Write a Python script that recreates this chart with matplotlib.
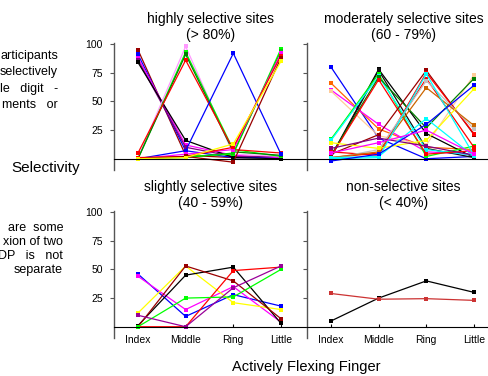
import matplotlib
matplotlib.use("Agg")
import matplotlib.pyplot as plt

plt.rcParams['font.family'] = ['Liberation Sans', 'DejaVu Sans']

fingers = ['Index', 'Middle', 'Ring', 'Little']

# highly selective sites (> 80%)
high_vals = [
    [95, 3, 1, 1], [91, 7, 1, 1], [88, 12, 3, 1], [86, 10, 2, 2], [84, 16, 1, 0],
    [1, 98, 4, 2], [0, 93, 8, 2], [0, 91, 6, 3], [5, 86, 8, 5],
    [0, 7, 92, 4],
    [0, 2, 4, 96], [0, 1, 5, 94], [0, 4, 8, 92], [1, 2, 10, 90], [0, 2, -3, 88], [0, 1, 13, 85],
]
high_colors = [
    '#990000', '#0000ff', '#ff00ff', '#800080', '#000000',
    '#ff99ff', '#00ff00', '#008000', '#ff0000',
    '#0000ff',
    '#00ff00', '#00cc00', '#ff00ff', '#ff0000', '#990000', '#ffff00',
]

# moderately selective sites (60 - 79%)
mod_vals = [
    [80, 18, 0, 2], [66, 26, 10, 8], [60, 30, 6, 4], [59, 20, 12, 73],
    [2, 78, 22, 1], [1, 77, 9, 1], [17, 74, 2, 11], [16, 72, 8, 3],
    [3, 71, 27, 70], [2, 69, 4, 7], [4, 21, 77, 21], [6, 3, 75, 22],
    [1, 5, 70, 10], [0, 8, 68, 26], [1, 6, 62, 29], [14, 9, 16, 61],
    [9, 18, 11, 3], [1, 2, 35, 2], [0, 1, 74, 3], [-2, 4, 30, 64], [5, 14, 25, 4],
]
mod_colors = [
    '#0000ff', '#ff6600', '#ff00ff', '#ffcc99',
    '#000000', '#111111', '#00ff00', '#00ffff',
    '#008000', '#ff0000', '#990000', '#ff0000',
    '#ff0000', '#c0c0c0', '#cc6600', '#ffff00',
    '#800080', '#00ffff', '#00ffff', '#0000ff', '#ff00ff',
]

# slightly selective sites (40 - 59%)
slight_vals = [
    [46, 9, 28, 18], [44, 15, 35, 4], [12, 53, 21, 15], [1, 45, 52, 3],
    [0, 53, 40, 7], [0, 0, 49, 52], [0, 25, 26, 50], [10, 0, 34, 53],
]
slight_colors = ['#0000ff', '#ff00ff', '#ffff00', '#000000',
                 '#990000', '#ff0000', '#00ff00', '#990099']

# non-selective sites (< 40%)
non_vals = [[5, 25, 40, 30], [29, 24, 24.5, 23]]
non_colors = ['#000000', '#cc3333']

W, H = 488, 376
fig = plt.figure(figsize=(W / 100, H / 100), dpi=100)

def px_axes(x0, y_top, w, h):
    return fig.add_axes([x0 / W, 1 - (y_top + h) / H, w / W, h / H])

panels = [
    (114, 43.2, high_vals, high_colors, 'highly selective sites\n(> 80%)', True, False),
    (307, 43.2, mod_vals, mod_colors, 'moderately selective sites\n(60 - 79%)', False, False),
    (114, 211.2, slight_vals, slight_colors, 'slightly selective sites\n(40 - 59%)', True, True),
    (307, 211.2, non_vals, non_colors, 'non-selective sites\n(< 40%)', False, True),
]

x = list(range(len(fingers)))
for x0, y0, vals, cols, title, ylab, xlab in panels:
    ax = px_axes(x0, y0, 193, 127)
    for v, c in zip(vals, cols):
        ax.plot(x, v, '-s', color=c, lw=0.9, ms=2.8, mew=0, clip_on=False)
    ax.set_xlim(-0.503, 3.546)
    ax.set_ylim(-10, 100.8)
    ax.spines['top'].set_visible(False)
    ax.spines['right'].set_visible(False)
    ax.spines['bottom'].set_position(('data', 0))
    ax.spines['bottom'].set_color('black')
    ax.spines['left'].set_color('#555555')
    ax.spines['left'].set_linewidth(1.0)
    ax.set_yticks([25, 50, 75, 100])
    ax.set_xticks(x)
    ax.tick_params(axis='y', direction='out', length=3, width=0.8, pad=5,
                   labelsize=7.5, labelleft=ylab, color='#555555')
    ax.tick_params(axis='x', direction='in', length=2, width=0.8, pad=6,
                   labelsize=7.5, labelbottom=xlab)
    ax.set_xticklabels(fingers)
    ax.set_title(title, fontsize=10, pad=3, linespacing=1.2)

fig.text(46 / W, 1 - 168 / H, 'Selectivity', fontsize=11, ha='center', va='center')
fig.text(306 / W, 1 - 367 / H, 'Actively Flexing Finger', fontsize=10.5,
         ha='center', va='center')

top_lines = ['articipants', 'selectively', 'le   digit   -', 'ments   or']
for i, s in enumerate(top_lines):
    fig.text(58 / W, 1 - (56 + 16.3 * i) / H, s, fontsize=9, ha='right', va='center')

bottom_lines = ['are  some', 'xion of two', 'DP   is   not', 'separate']
for i, s in enumerate(bottom_lines):
    fig.text(63 / W, 1 - (228 + 14 * i) / H, s, fontsize=9, ha='right', va='center')

fig.savefig('out.png', dpi=100)
